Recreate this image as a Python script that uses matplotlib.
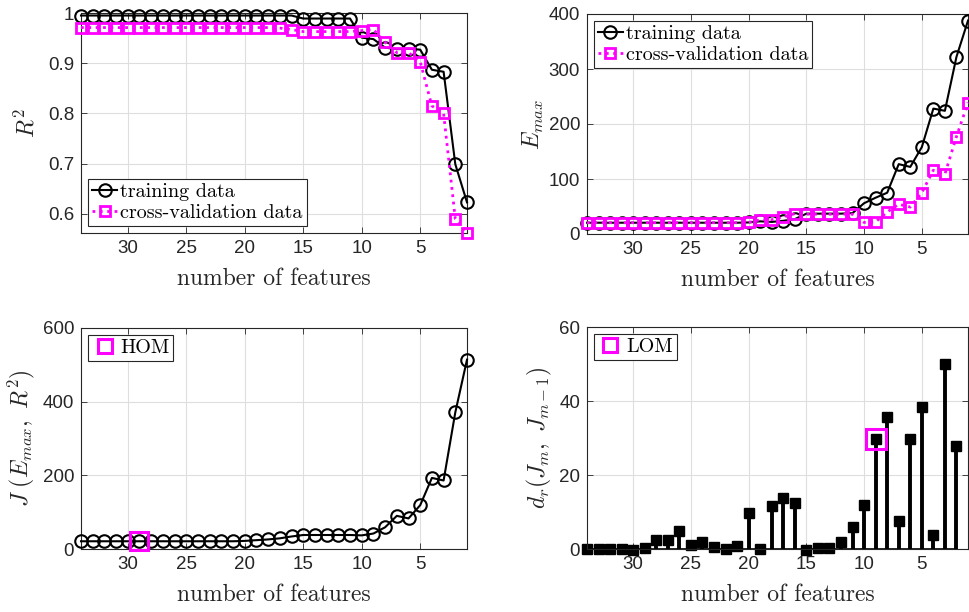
import numpy as np
import matplotlib
matplotlib.use("Agg")
import matplotlib.pyplot as plt
from matplotlib.ticker import FuncFormatter

plt.rcParams['mathtext.fontset'] = 'cm'
plt.rcParams['font.family'] = ['Liberation Sans', 'DejaVu Sans']
plt.rcParams['axes.unicode_minus'] = False

features = list(range(34, 0, -1))

r2_train = [0.995] * 19 + [0.989] * 5 + [0.951, 0.948, 0.931, 0.928, 0.929, 0.927, 0.887, 0.883, 0.699, 0.623]
r2_cv = [0.971] * 17 + [0.970, 0.967] + [0.963] * 5 + [0.965, 0.967, 0.942, 0.921, 0.921, 0.903, 0.815, 0.800, 0.590, 0.562]

emax_train = [20.5] * 14 + [21, 23, 22, 24, 27, 37, 37, 37, 37, 38, 56, 66, 75, 127, 122, 158, 228, 224, 322, 388]
emax_cv = [20.5] * 14 + [21, 26, 26, 31, 37, 36, 36, 36, 36, 36, 21, 22, 40, 54, 49, 75, 116, 109, 177, 239]

j_cost = [21] * 14 + [22, 24, 26, 29, 34, 38, 38, 38, 38, 38, 37, 42, 59, 90, 83, 119, 193, 186, 371, 514]

dr_features = list(range(34, 1, -1))
dr_values = [0, 0, 0, 0, -0.2, 0.3, 2.5, 2.3, 5.0, 1.2, 2.0, 0.5, 0.1, 0.9, 9.6, 0.1, 11.6, 13.8, 12.5,
             -0.2, 0.4, 0.4, 1.8, 6.0, 12.0, 29.7, 35.8, 7.5, 29.7, 38.3, 3.7, 50.0, 27.9]

hom_feature, hom_value = 29, 21
lom_feature, lom_value = 9, 29.7

xticks = [30, 25, 20, 15, 10, 5]

fig = plt.figure(figsize=(9.69, 6.12), dpi=100)
W, H = 969, 612
def ax_at(l, t, r, b):
    return fig.add_axes([l / W, 1 - b / H, (r - l) / W, (b - t) / H])

ax1 = ax_at(81, 13, 467, 233)
ax2 = ax_at(587, 14, 968, 234)
ax3 = ax_at(81, 328, 467, 549)
ax4 = ax_at(587, 327, 968, 549)

gray = '#262626'
serif = dict(family='cmr10', size=17)
for ax in (ax1, ax2, ax3, ax4):
    ax.set_xlim(34, 1)
    ax.set_xticks(xticks)
    ax.grid(True, color='#dedede', linewidth=0.8)
    ax.set_axisbelow(True)
    ax.tick_params(direction='in', top=True, right=True, length=4, width=0.6,
                   labelsize=13.5, colors=gray, labelcolor=gray, pad=5)
    for s in ax.spines.values():
        s.set_color(gray)
        s.set_linewidth(0.8)
    ax.set_xlabel('number of features', fontdict=serif, color=gray, labelpad=8)
    ax.yaxis.set_major_formatter(FuncFormatter(lambda v, p: '%g' % v))

leg_kw = dict(fancybox=False, framealpha=1, edgecolor=gray, borderpad=0.2,
              handlelength=1.25, handletextpad=0.15, labelspacing=0.15, borderaxespad=0.0,
              prop=dict(family='cmr10', size=14.5))

# R^2
ax1.plot(features, r2_train, '-o', color='black', lw=1.5, ms=9, mfc='none', mew=1.5,
         label='training data', clip_on=False, zorder=3)
ax1.plot(features, r2_cv, ':s', color='#ff00ff', lw=2, ms=6.5, mfc='none', mew=2,
         label='cross-validation data', clip_on=False, zorder=4)
ax1.set_ylim(0.562, 1.0)
ax1.set_yticks([0.6, 0.7, 0.8, 0.9, 1.0])
ax1.set_ylabel(r'$R^2$', fontsize=17, color=gray, labelpad=6)
leg = ax1.legend(loc='lower left', bbox_to_anchor=(0.018, 0.03), **leg_kw)
leg.get_frame().set_linewidth(0.8)

# E_max
ax2.plot(features, emax_train, '-o', color='black', lw=1.5, ms=9, mfc='none', mew=1.5,
         label='training data', clip_on=False, zorder=3)
ax2.plot(features, emax_cv, ':s', color='#ff00ff', lw=2, ms=6.5, mfc='none', mew=2,
         label='cross-validation data', clip_on=False, zorder=4)
ax2.set_ylim(0, 400)
ax2.set_yticks([0, 100, 200, 300, 400])
ax2.set_ylabel(r'$E_{max}$', fontsize=17, color=gray, labelpad=2)
leg = ax2.legend(loc='upper left', bbox_to_anchor=(0.018, 0.97), **leg_kw)
leg.get_frame().set_linewidth(0.8)

# J
ax3.plot(features, j_cost, '-o', color='black', lw=1.5, ms=9, mfc='none', mew=1.5,
         clip_on=False, zorder=3)
ax3.plot([hom_feature], [hom_value], 's', color='#ff00ff', ms=13, mfc='none', mew=2.2,
         label='HOM', clip_on=False, zorder=4)
ax3.set_ylim(0, 600)
ax3.set_yticks([0, 200, 400, 600])
ax3.set_ylabel(r'$J\ (E_{max},\ R^2)$', fontsize=17, color=gray, labelpad=4)
leg = ax3.legend(loc='upper left', bbox_to_anchor=(0.018, 0.97), markerscale=0.8, **leg_kw)
leg.get_frame().set_linewidth(0.8)

# d_r
ml, sl, bl = ax4.stem(dr_features, dr_values, linefmt='k-', markerfmt='ks', basefmt='k-')
sl.set_linewidth(2.8)
ml.set_markersize(7)
ml.set_clip_on(False)
bl.set_linewidth(1.2)
bl.set_clip_on(False)
ax4.plot([lom_feature], [lom_value], 's', color='#ff00ff', ms=14, mfc='none', mew=2.2,
         label='LOM', clip_on=False, zorder=4)
ax4.set_xlim(34, 1)
ax4.set_ylim(0, 60)
ax4.set_yticks([0, 20, 40, 60])
ax4.set_ylabel(r'$d_r(J_m,\ J_{m-1})$', fontsize=17, color=gray, labelpad=4)
leg = ax4.legend(loc='upper left', bbox_to_anchor=(0.018, 0.97), markerscale=0.75, **leg_kw)
leg.get_frame().set_linewidth(0.8)

fig.savefig('out.png', dpi=100)
